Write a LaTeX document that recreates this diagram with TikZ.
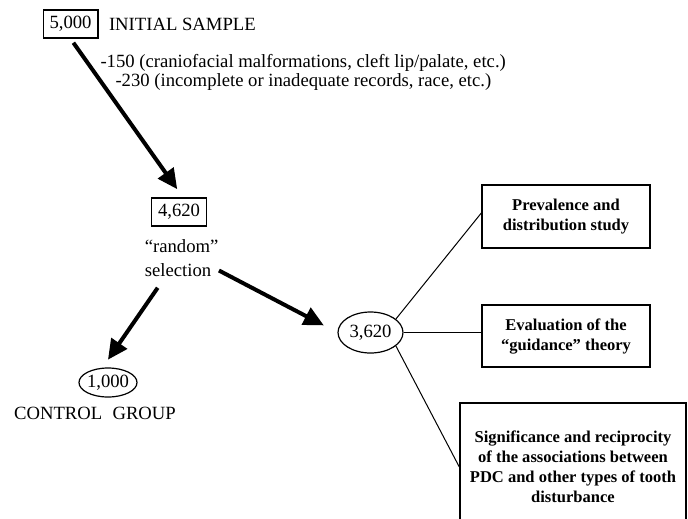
\documentclass[tikz,border=0pt]{standalone}
\usepackage{fontspec}
\setmainfont{Liberation Serif}
\usetikzlibrary{arrows.meta,positioning,shapes.geometric,calc}

\tikzset{every picture/.style={line width=0.75pt}}
\tikzset{
  plaintext/.style={inner sep=0pt, font=\fontsize{14}{18}\selectfont},
  countbox/.style={draw, line width=1pt, inner sep=0pt, minimum width=41pt, minimum height=21pt, font=\fontsize{14}{18}\selectfont},
  countoval/.style={ellipse, draw, line width=0.9pt, inner sep=0pt, font=\fontsize{14}{18}\selectfont},
  studybox/.style={draw, line width=1pt, align=center, inner sep=0pt, font=\bfseries\fontsize{12.4}{15}\selectfont},
  bigarrow/.style={line width=3pt, -{Triangle[length=15pt,width=14pt]}},
}

\begin{document}
\begin{tikzpicture}[x=0.75pt,y=0.75pt,yscale=-1]
\useasboundingbox (0,0) rectangle (688,518);

% sample sizes
\node[countbox] (n5000) at (70.5,24) {5,000};
\node[plaintext, right=7.5pt of n5000] (initial) {INITIAL SAMPLE};
\node[plaintext, anchor=base west] (excl150) at (100,67) {-150 (craniofacial malformations, cleft lip/palate, etc.)};
\node[plaintext, anchor=base west] (excl230) at (115,86) {-230 (incomplete or inadequate records, race, etc.)};

\node[countbox] (n4620) at (179,212) {4,620};
\node[plaintext, align=left, below=9pt of n4620, xshift=2pt] (nsel) {“random”\\selection};

\node[countoval, minimum width=43.5pt, minimum height=21.75pt, inner xsep=-1pt] (n1000) at (108,382.5) {1,000};
\node[plaintext, below=7pt of n1000, xshift=-9.75pt] (control) {CONTROL\hspace{0.55em}GROUP};

\node[countoval, minimum width=48.75pt, minimum height=30.75pt] (n3620) at (370.5,332.5) {3,620};

% studies
\node[studybox, minimum width=126pt, minimum height=47.25pt] (prevalence) at (566,216.5) {Prevalence and\\distribution study};
\node[studybox, minimum width=126pt, minimum height=46.5pt] (guidance) at (566,336) {Evaluation of the\\“guidance” theory};
\node[studybox, minimum width=169.5pt, minimum height=96pt] (signif) at (573,467) {Significance and reciprocity\\of the associations between\\PDC and other types of tooth\\disturbance};

% arrows
\draw[bigarrow, shorten <=3.75pt, shorten >=7.5pt] (n5000.south) -- ([xshift=3pt]n4620.north);
\draw[bigarrow, shorten <=10pt, shorten >=7pt] ($(nsel.south west)!0.28!(nsel.south east)$) -- ([xshift=-4pt]n1000.north);
\draw[bigarrow, shorten >=11.5pt] ($(nsel.east)!0.67!(nsel.south east)$) -- (n3620.west);

% links to the studies
\draw (n3620.28) -- ($(prevalence.west)!0.11!(prevalence.north west)$);
\draw (n3620.east) -- (n3620.east -| guidance.west);
\draw (n3620.-28) -- (signif.west);
\end{tikzpicture}
\end{document}
